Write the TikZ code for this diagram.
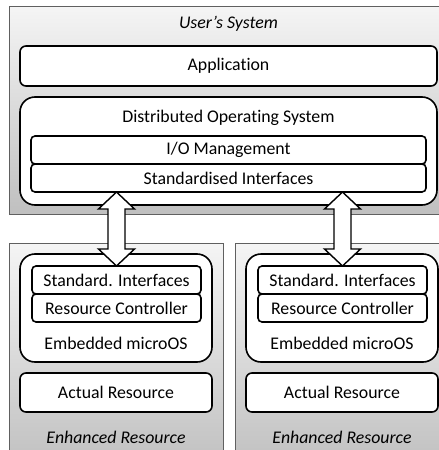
\documentclass[tikz,border=0pt]{standalone}
\usepackage{fontspec}
\setmainfont{Carlito}[Ligatures=NoCommon]
\usetikzlibrary{calc}
\tikzset{
  graybox/.style={draw=gray!75!black, line width=0.8pt, top color=gray!8, bottom color=gray!50},
  wbox/.style={draw=black, fill=white, line width=1.6pt, inner sep=0pt, outer sep=0pt},
  lbl/.style={inner sep=0pt},
  blockarrow/.style={draw=black, fill=white, line width=1.4pt, line join=miter},
}
\begin{document}
\begin{tikzpicture}[x=1pt,y=-1pt, font=\fontsize{17.8}{20}\selectfont]
\clip (0,0) rectangle (439,450);
\useasboundingbox (0,0) rectangle (439,450);
% top system
\path[graybox] (9,6) rectangle (470,214);
\node[lbl, font=\fontsize{17.8}{20}\selectfont\itshape] (us) at (228.5,24) {User’s System};
\node[wbox, rounded corners=6pt, minimum width=417, minimum height=40] (app) at (228.5,66) {Application};
\node[wbox, rounded corners=15pt, minimum width=417, minimum height=108] (dos) at (228.5,151) {};
\node[lbl] (dosl) at (228.5,118) {Distributed Operating System};
\node[wbox, rounded corners=4pt, minimum width=395, minimum height=28] (io) at (228.5,150) {I/O Management};
\node[wbox, rounded corners=4pt, minimum width=395, minimum height=28] (si) at (228.5,178) {Standardised Interfaces};
% resources
\foreach \i/\dx in {1/0, 2/226}{
  \path[graybox] (9+\dx,243) rectangle (223+\dx,470);
  \node[wbox, rounded corners=15pt, minimum width=192, minimum height=108] (emb\i) at (116+\dx,308) {};
  \node[wbox, rounded corners=4pt, minimum width=169, minimum height=28] (sti\i) at (116.5+\dx,280) {Standard. Interfaces};
  \node[wbox, rounded corners=4pt, minimum width=169, minimum height=28] (rc\i) at (116.5+\dx,308) {Resource Controller};
  \node[lbl] (embl\i) at (116+\dx,343) {Embedded microOS};
  \node[wbox, rounded corners=6pt, minimum width=192, minimum height=39] (ar\i) at (116+\dx,392.5) {Actual Resource};
  \node[lbl, font=\fontsize{17.8}{20}\selectfont\itshape] (er\i) at (116+\dx,437) {Enhanced Resource};
}
% block arrows
\foreach \i in {1,2}{
  \coordinate (t\i) at (sti\i.north |- si.south);
  \coordinate (b\i) at (sti\i.north);
  \draw[blockarrow] (t\i) -- ++(18,17) -- ++(-9.5,0) |- ($(b\i)+(8.5,-17)$) -- ++(9.5,0) -- (b\i)
     -- ++(-18,-17) -- ++(9.5,0) |- ($(t\i)+(-8.5,17)$) -- ++(-9.5,0) -- cycle;
}
\end{tikzpicture}
\end{document}
